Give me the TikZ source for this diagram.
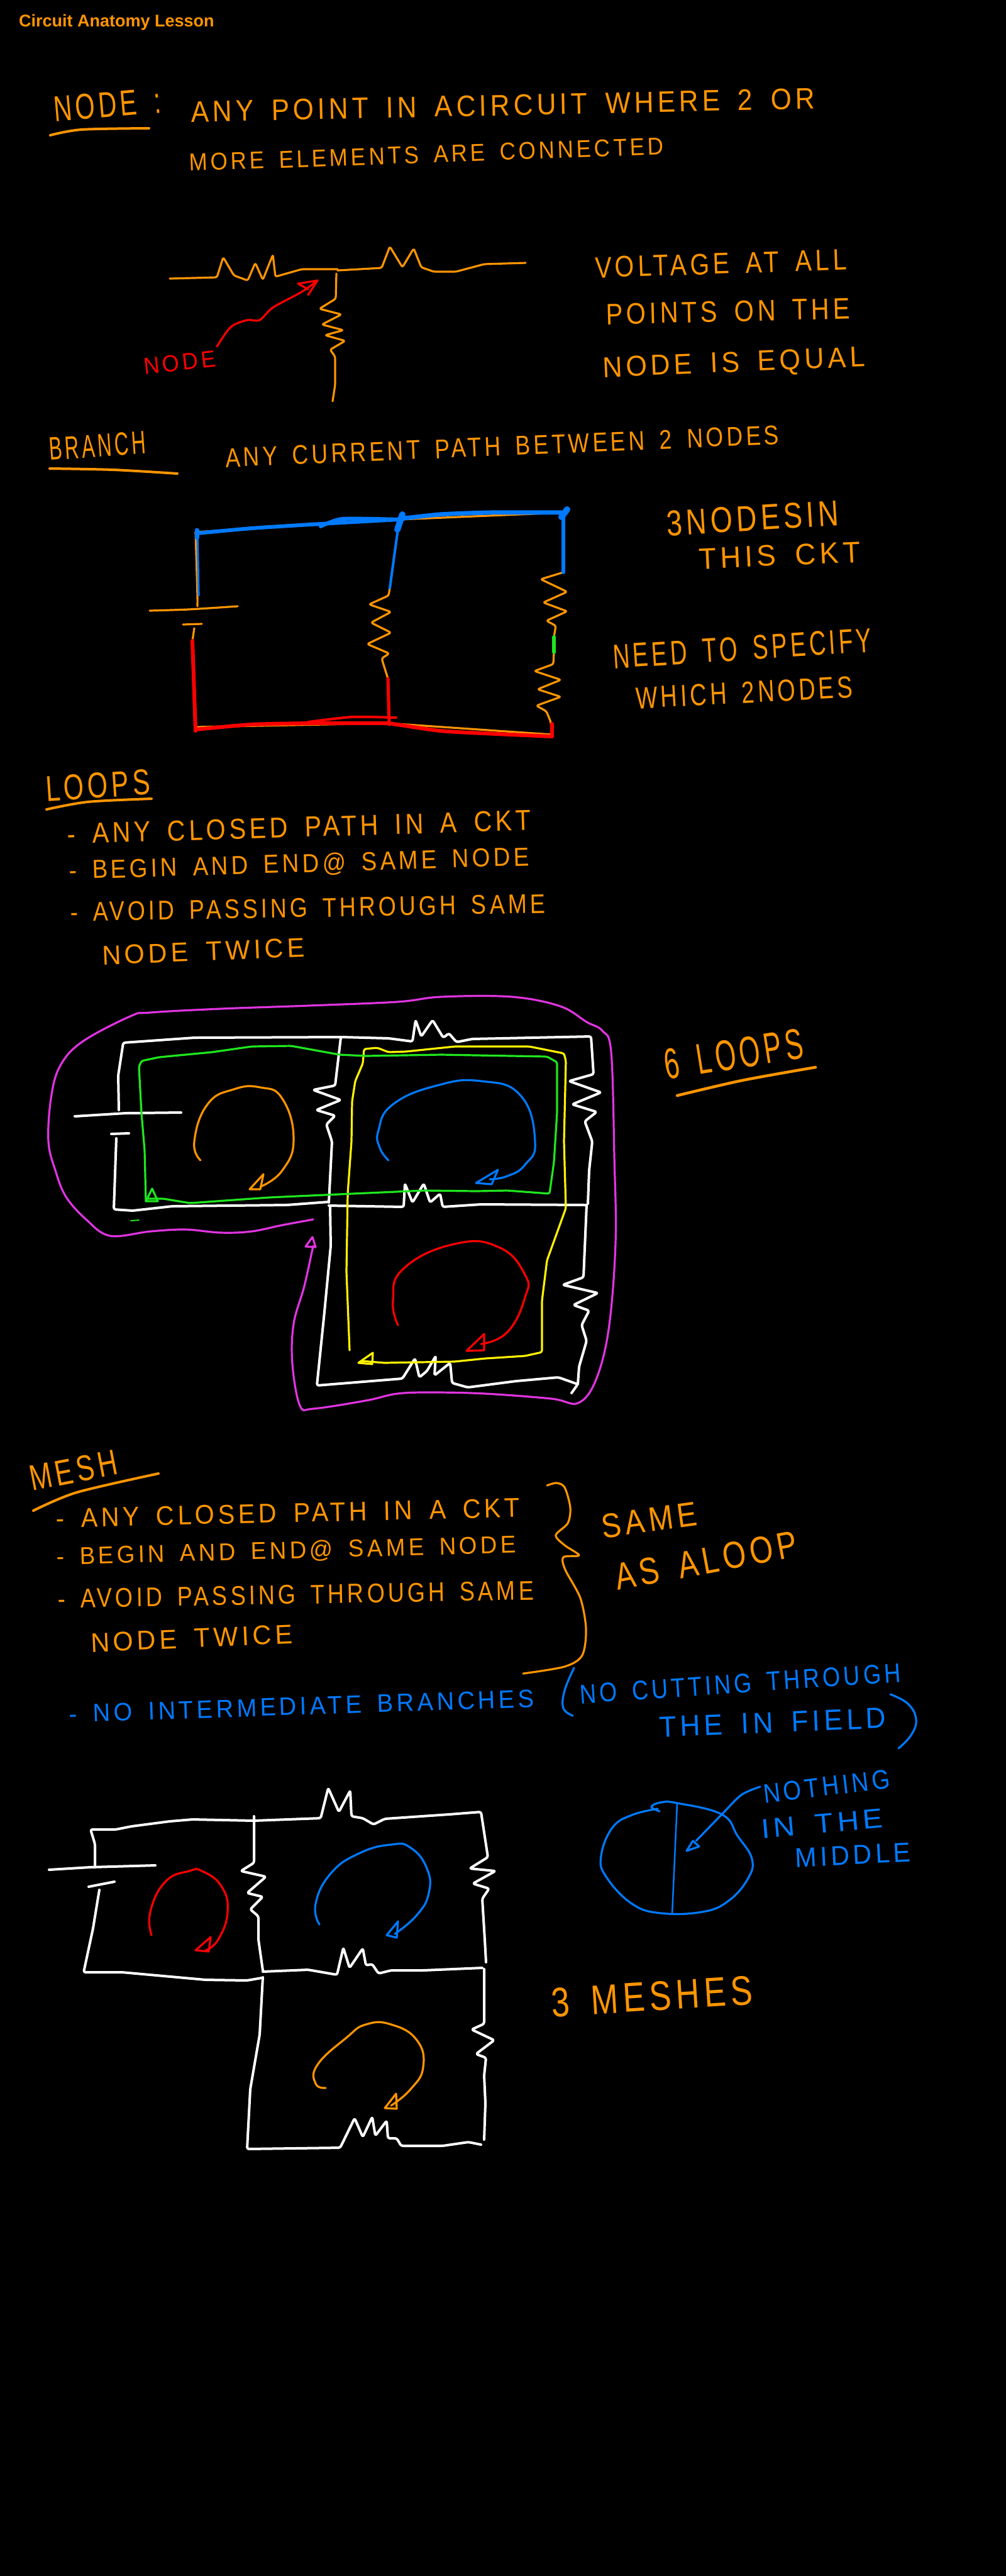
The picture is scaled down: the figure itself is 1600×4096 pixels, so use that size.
\documentclass[tikz,border=0pt]{standalone}
\usepackage{fontspec}
\usepackage{graphicx}
\setmainfont{Liberation Sans}
\newfontfamily\handfont[LetterSpace=14,WordSpace=1.6]{Liberation Sans}
\usetikzlibrary{positioning}
\definecolor{inkOrange}{HTML}{FF9500}
\definecolor{inkBlue}{HTML}{007AFF}
\definecolor{inkRed}{HTML}{FF0000}
\definecolor{inkGreen}{HTML}{1FE61F}
\definecolor{inkYellow}{HTML}{FFF200}
\definecolor{inkMagenta}{HTML}{E034E0}
\newcommand{\inkfit}[3]{\resizebox{#1pt}{#2pt}{\handfont #3}}

\begin{document}
\begin{tikzpicture}[x=1pt,y=-1pt]
  \tikzset{
    every node/.style={inner sep=0pt,anchor=base west},
    hand/.style={text=inkOrange},
    handblue/.style={text=inkBlue},
    stroke/.style={line width=3.2pt,line cap=round,line join=round},
    wire/.style={stroke,draw=white,line width=4pt,rounded corners=3pt},
    inkor/.style={stroke,draw=inkOrange},
    inkbl/.style={stroke,draw=inkBlue},
    inkrd/.style={stroke,draw=inkRed},
    inkgr/.style={stroke,draw=inkGreen},
    inkye/.style={stroke,draw=inkYellow},
    inkmg/.style={stroke,draw=inkMagenta},
    zig/.style={rounded corners=3pt}
  }
  \path[fill=black,use as bounding box] (0,0) rectangle (1600,4096);

  \node[text=inkOrange,font=\bfseries\fontsize{27}{29}\selectfont] (title) at (30,42) {Circuit Anatomy Lesson};

  % node definition
  \node[hand,rotate=5] (nodehead) at (87,194) {\inkfit{171}{40}{NODE :}};
  \draw[inkor,line width=4pt] plot[smooth,tension=.5] coordinates {(80,215) (130,206) (237,204)};
  \node[hand,rotate=1.2] (nodea) at (304,194) {\inkfit{992}{33}{ANY POINT IN ACIRCUIT WHERE 2 OR}};
  \node[hand,rotate=2] (nodeb) at (301,272) {\inkfit{755}{27}{MORE ELEMENTS ARE CONNECTED}};
  \node[hand,rotate=1.9] (volta) at (947,442) {\inkfit{400}{33}{VOLTAGE AT ALL}};
  \node[hand,rotate=1.4] (voltb) at (964,516) {\inkfit{388}{33}{POINTS ON THE}};
  \node[hand,rotate=2.4] (voltc) at (959,600) {\inkfit{417}{32}{NODE IS EQUAL}};
  \draw[inkor,zig] plot coordinates {(270,443) (345,441) (355,409) (372,438) (394,446) (406,418) (418,445) (434,405) (438,440) (480,428) (537,428)};
  \draw[inkor,zig] plot coordinates {(537,430) (607,426) (620,392) (640,425) (658,395) (670,425) (690,432) (725,432) (770,420) (836,418)};
  \draw[inkor,zig] plot coordinates {(535,435) (534,475) (508,491) (543,500) (512,516) (546,525) (517,533) (549,542) (525,556) (533,567) (533,612) (529,638)};
  \draw[inkrd] plot[smooth,tension=.5] coordinates {(345,551) (367,520) (393,509) (413,509) (434,489) (480,464) (505,446)};
  \draw[inkrd] (490,469) -- (505,446) -- (474,451) -- (490,460);
  \node[text=inkRed,rotate=6.5] (nodered) at (230,596) {\inkfit{115}{26}{NODE}};

  % branch, first circuit
  \node[hand,rotate=4] (branchhead) at (79,732) {\inkfit{154}{36}{BRANCH}};
  \draw[inkor,line width=4pt] plot[smooth,tension=.5] coordinates {(79,745) (180,747) (282,753)};
  \node[hand,rotate=2.4] (brancha) at (359,743) {\inkfit{881}{30}{ANY CURRENT PATH BETWEEN 2 NODES}};
  \node[hand,rotate=3.5] (threea) at (1061,852) {\inkfit{274}{40}{3NODESIN}};
  \node[hand,rotate=2.5] (threeb) at (1112,905) {\inkfit{257}{33}{THIS CKT}};
  \node[hand,rotate=3.7] (needa) at (976,1063) {\inkfit{412}{38}{NEED TO SPECIFY}};
  \node[hand,rotate=3] (needb) at (1012,1127) {\inkfit{345}{34}{WHICH 2NODES}};
  \draw[inkor] plot[smooth,tension=.3] coordinates {(311,846) (314,947) (314,964)};
  \draw[inkor] plot[smooth,tension=.4] coordinates {(238,971) (300,969) (378,964)};
  \draw[inkor] (291,993) -- (321,992);
  \draw[inkor] (309,999) -- (306,1019) -- (311,1162);
  \draw[inkor,zig] plot coordinates {(635,826) (620,935) (618,947) (587,961) (622,973) (590,990) (622,1006) (584,1024) (619,1039) (607,1047) (617,1079) (619,1151)};
  \draw[inkor,zig] plot coordinates {(896,815) (896,910) (860,921) (902,941) (864,958) (902,972) (869,987) (884,995) (881,1013) (881,1037) (880,1056) (850,1067) (892,1081) (855,1096) (892,1108) (853,1122) (869,1131) (876,1148) (878,1171)};
  \draw[inkor] (311,1156) -- (617,1150) -- (878,1168);
  \draw[inkor] (311,846) -- (635,826) -- (896,815);
  \draw[inkbl,line width=6pt] plot[smooth,tension=.4] coordinates {(313,848) (400,840) (510,833) (635,826)};
  \draw[inkbl,line width=6pt] plot[smooth,tension=.4] coordinates {(510,837) (545,825) (635,826)};
  \draw[inkbl,line width=7pt] plot[smooth,tension=.4] coordinates {(635,825) (700,818) (780,815) (896,815)};
  \draw[inkbl,line width=10pt] (632,842) -- (640,818);
  \draw[inkbl,line width=10pt] (893,822) -- (902,810);
  \draw[inkbl,line width=6pt] (896,815) -- (896,910);
  \draw[inkbl,line width=4pt] (635,826) -- (620,935);
  \draw[inkbl] (314,848) -- (316,947);
  \draw[inkbl,line width=7pt] (313,843) -- (313,855);
  \draw[inkgr,line width=6pt] (881,1013) -- (881,1037);
  \draw[inkrd,line width=6pt] (306,1019) -- (311,1162);
  \draw[inkrd,line width=5pt] (617,1079) -- (619,1152);
  \draw[inkrd,line width=6pt] (878,1151) -- (878,1171);
  \draw[inkrd,line width=6pt] plot[smooth,tension=.4] coordinates {(311,1160) (400,1152) (500,1150) (619,1150)};
  \draw[inkrd,line width=4pt] plot[smooth,tension=.4] coordinates {(490,1148) (560,1140) (630,1141)};
  \draw[inkrd,line width=6pt] plot[smooth,tension=.4] coordinates {(619,1150) (700,1162) (790,1167) (878,1171)};

  % loops text
  \node[hand,rotate=3.8] (loopshead) at (74,1274) {\inkfit{166}{40}{LOOPS}};
  \draw[inkor,line width=4pt] plot[smooth,tension=.5] coordinates {(74,1287) (140,1275) (241,1270)};
  \node[hand,rotate=1.7] (loopa) at (107,1342) {\inkfit{738}{32}{- ANY CLOSED PATH IN A CKT}};
  \node[hand,rotate=1.7] (loopb) at (110,1398) {\inkfit{732}{30}{- BEGIN AND END@ SAME NODE}};
  \node[hand,rotate=1] (loopc) at (112,1465) {\inkfit{755}{30}{- AVOID PASSING THROUGH SAME}};
  \node[hand,rotate=2.3] (loopd) at (163,1534) {\inkfit{322}{30}{NODE TWICE}};
  \node[hand,rotate=9] (sixloops) at (1060,1717) {\inkfit{223}{48}{6 LOOPS}};
  \draw[inkor,line width=4.5pt] plot[smooth,tension=.5] coordinates {(1077,1742) (1180,1718) (1297,1697)};

  % loops circuit
  \draw[wire] plot coordinates {(189,1765) (188,1710) (196,1658) (309,1650) (544,1649) (618,1651) (656,1656) (661,1622) (670,1648) (688,1622) (705,1650) (714,1643) (726,1657) (751,1652) (940,1648) (944,1708) (905,1719) (956,1737) (910,1756) (949,1768) (930,1783) (942,1815) (937,1861) (935,1914)};
  \draw[wire] plot coordinates {(542,1650) (533,1726) (498,1733) (542,1749) (503,1765) (533,1774) (519,1788) (528,1815) (523,1912)};
  \draw[wire] plot coordinates {(119,1775) (200,1770) (288,1769)};
  \draw[wire] (177,1803) -- (205,1802);
  \draw[wire] plot coordinates {(185,1810) (181,1923) (211,1925) (274,1918) (456,1916) (523,1911)};
  \draw[wire] plot coordinates {(523,1917) (642,1919) (644,1882) (656,1912) (674,1882) (684,1912) (700,1898) (704,1919) (765,1915) (933,1916)};
  \draw[wire] plot coordinates {(525,1919) (526,1981) (516,2086) (504,2203) (640,2192) (660,2160) (667,2190) (679,2180) (693,2156) (691,2187) (716,2167) (719,2199) (744,2206) (821,2196) (888,2190) (919,2201) (909,2215)};
  \draw[wire] plot coordinates {(933,1916) (928,2031) (895,2043) (951,2056) (912,2075) (937,2084) (925,2107) (933,2132) (921,2173) (919,2201)};
  \draw[inkye,zig] plot coordinates {(556,2147) (551,2022) (553,1898) (559,1815) (560,1751) (565,1719) (577,1691) (579,1668) (600,1666) (618,1673) (646,1672) (723,1664) (842,1664) (897,1675) (900,1687) (897,1815) (900,1921) (870,2004) (862,2068) (862,2150) (835,2156) (772,2160) (723,2165) (611,2167) (575,2164)};
  \draw[inkye] (570,2167) -- (593,2151) -- (592,2169) -- cycle;
  \draw[inkgr,zig] plot coordinates {(232,1910) (230,1829) (225,1770) (221,1696) (225,1687) (253,1681) (337,1673) (400,1664) (463,1663) (540,1677) (582,1679) (702,1677) (870,1680) (886,1689) (886,1769) (881,1848) (874,1898) (807,1893) (758,1894) (674,1893) (561,1898) (428,1904) (302,1913) (260,1906) (235,1906)};
  \draw[inkgr] (232,1910) -- (251,1910) -- (242,1890) -- cycle;
  \draw[inkgr,line width=2pt] (208,1941) -- (221,1940);
  \draw[inkmg] plot[smooth,tension=.6] coordinates {(498,1939) (449,1948) (400,1958) (351,1960) (295,1955) (239,1958) (175,1965) (137,1939) (105,1903) (88,1861) (77,1815) (81,1747) (95,1696) (130,1657) (207,1616) (239,1610) (351,1604) (491,1599) (632,1593) (702,1585) (814,1585) (891,1600) (933,1625) (958,1639) (972,1673) (977,1838) (979,1976) (968,2114) (947,2196) (919,2231) (877,2224) (772,2216) (688,2214) (632,2216) (582,2227) (498,2240) (477,2235) (465,2169) (467,2105) (484,2045) (498,1981)};
  \draw[inkmg] (497,1967) -- (486,1982) -- (502,1983) -- cycle;
  \draw[inkor] plot[smooth,tension=.8] coordinates {(319,1845) (309,1815) (330,1756) (372,1732) (414,1729) (449,1747) (467,1811) (449,1861) (414,1887)};
  \draw[inkor] (419,1867) -- (397,1891) -- (414,1891) -- cycle;
  \draw[inkbl] plot[smooth,tension=.8] coordinates {(618,1845) (604,1825) (602,1797) (625,1756) (695,1726) (765,1719) (828,1742) (851,1815) (835,1852) (807,1870) (779,1875)};
  \draw[inkbl] (792,1860) -- (757,1881) -- (782,1883) -- cycle;
  \draw[inkrd] plot[smooth,tension=.8] coordinates {(633,2107) (625,2068) (642,2017) (723,1978) (793,1983) (835,2027) (835,2063) (807,2118) (765,2137)};
  \draw[inkrd] (770,2121) -- (742,2148) -- (770,2147) -- cycle;

  % mesh text
  \node[hand,rotate=11] (meshhead) at (51,2371) {\inkfit{141}{40}{MESH}};
  \draw[inkor,line width=4pt] plot[smooth,tension=.5] coordinates {(53,2402) (122,2373) (252,2343)};
  \node[hand,rotate=1.3] (mesha) at (89,2429) {\inkfit{738}{30}{- ANY CLOSED PATH IN A CKT}};
  \node[hand,rotate=1.5] (meshb) at (90,2488) {\inkfit{731}{28}{- BEGIN AND END@ SAME NODE}};
  \node[hand,rotate=1] (meshc) at (92,2557) {\inkfit{757}{30}{- AVOID PASSING THROUGH SAME}};
  \node[hand,rotate=2.5] (meshd) at (145,2627) {\inkfit{321}{30}{NODE TWICE}};
  \draw[inkor] plot[smooth,tension=.5] coordinates {(870,2362) (885,2358) (898,2365) (907,2397) (903,2422) (884,2441) (898,2457) (921,2473) (896,2476) (899,2496) (923,2541) (932,2590) (926,2632) (898,2650) (832,2661)};
  \node[hand,rotate=7.8] (samea) at (959,2446) {\inkfit{153}{38}{SAME}};
  \node[hand,rotate=10.6] (sameb) at (982,2529) {\inkfit{294}{42}{AS ALOOP}};
  \node[handblue,rotate=1.9] (bluea) at (110,2739) {\inkfit{740}{28}{- NO INTERMEDIATE BRANCHES}};
  \draw[inkbl] plot[smooth,tension=.7] coordinates {(913,2652) (898,2688) (896,2716) (911,2728)};
  \node[handblue,rotate=3.9] (blueb) at (923,2709) {\inkfit{511}{30}{NO CUTTING THROUGH}};
  \node[handblue,rotate=2.3] (bluec) at (1049,2762) {\inkfit{361}{32}{THE IN FIELD}};
  \draw[inkbl] plot[smooth,tension=.7] coordinates {(1416,2694) (1444,2709) (1457,2734) (1449,2759) (1429,2780)};

  % mesh circuit
  \draw[wire] plot coordinates {(151,2966) (151,2932) (144,2909) (184,2909) (209,2904) (270,2896) (306,2893) (404,2895) (510,2891) (522,2843) (539,2881) (557,2847) (559,2888) (577,2891) (594,2901) (612,2892) (714,2885) (765,2881) (776,2953) (747,2971) (788,2975) (752,2995) (778,3003) (767,3019) (771,3084) (773,3120)};
  \draw[wire] plot coordinates {(404,2888) (404,2962) (383,2975) (423,2984) (393,3010) (418,3016) (398,3036) (411,3047) (411,3084) (418,3133)};
  \draw[wire] plot coordinates {(78,2973) (143,2969) (247,2966)};
  \draw[wire] (141,3000) -- (182,2992);
  \draw[wire] plot coordinates {(158,3005) (148,3066) (133,3136) (194,3136) (327,3148) (393,3149) (416,3145)};
  \draw[wire] plot coordinates {(418,3135) (490,3132) (536,3140) (546,3097) (556,3129) (577,3098) (582,3125) (592,3123) (602,3138) (622,3133) (673,3133) (767,3129)};
  \draw[wire] plot coordinates {(418,3144) (413,3235) (398,3322) (393,3417) (541,3415) (564,3368) (577,3398) (592,3366) (597,3396) (615,3372) (617,3400) (631,3400) (638,3412) (704,3412) (745,3406) (765,3410)};
  \draw[wire] plot coordinates {(770,3131) (770,3218) (750,3227) (786,3244) (757,3266) (773,3272) (770,3300) (772,3344) (770,3402)};
  \draw[inkrd] plot[smooth,tension=.8] coordinates {(241,3077) (239,3040) (263,2992) (301,2975) (321,2975) (352,2999) (362,3040) (347,3084) (327,3101)};
  \draw[inkrd] (335,3080) -- (311,3101) -- (332,3103) -- cycle;
  \draw[inkbl] plot[smooth,tension=.8] coordinates {(508,3060) (502,3027) (526,2979) (571,2947) (622,2933) (653,2938) (679,2971) (682,3010) (663,3045) (628,3075)};
  \draw[inkbl] (633,3055) -- (615,3077) -- (631,3081) -- cycle;
  \draw[inkor] plot[smooth,tension=.8] coordinates {(518,3320) (502,3313) (505,3283) (551,3240) (582,3219) (622,3219) (663,3244) (673,3287) (653,3322) (622,3348)};
  \draw[inkor] (630,3329) -- (612,3352) -- (631,3353) -- cycle;
  \node[hand,rotate=3.6] (threemesh) at (878,3207) {\inkfit{321}{46}{3 MESHES}};

  % circle
  \draw[inkbl] plot[smooth,tension=.7] coordinates {(1049,2880) (1036,2873) (1051,2866) (1077,2867) (1148,2885) (1173,2919) (1196,2956) (1189,2988) (1158,3023) (1117,3040) (1051,3042) (1005,3027) (964,2984) (956,2951) (974,2906) (1005,2886) (1046,2876)};
  \draw[inkbl,line width=2.5pt] (1077,2867) -- (1069,3044);
  \draw[inkbl] plot[smooth,tension=.5] coordinates {(1209,2841) (1179,2854) (1148,2885) (1107,2927)};
  \draw[inkbl] (1102,2927) -- (1092,2943) -- (1112,2936) -- cycle;
  \node[handblue,rotate=6.8] (nothinga) at (1216,2867) {\inkfit{202}{30}{NOTHING}};
  \node[handblue,rotate=5] (nothingb) at (1212,2923) {\inkfit{194}{30}{IN THE}};
  \node[handblue,rotate=2.8] (nothingc) at (1265,2969) {\inkfit{184}{30}{MIDDLE}};
\end{tikzpicture}
\end{document}
